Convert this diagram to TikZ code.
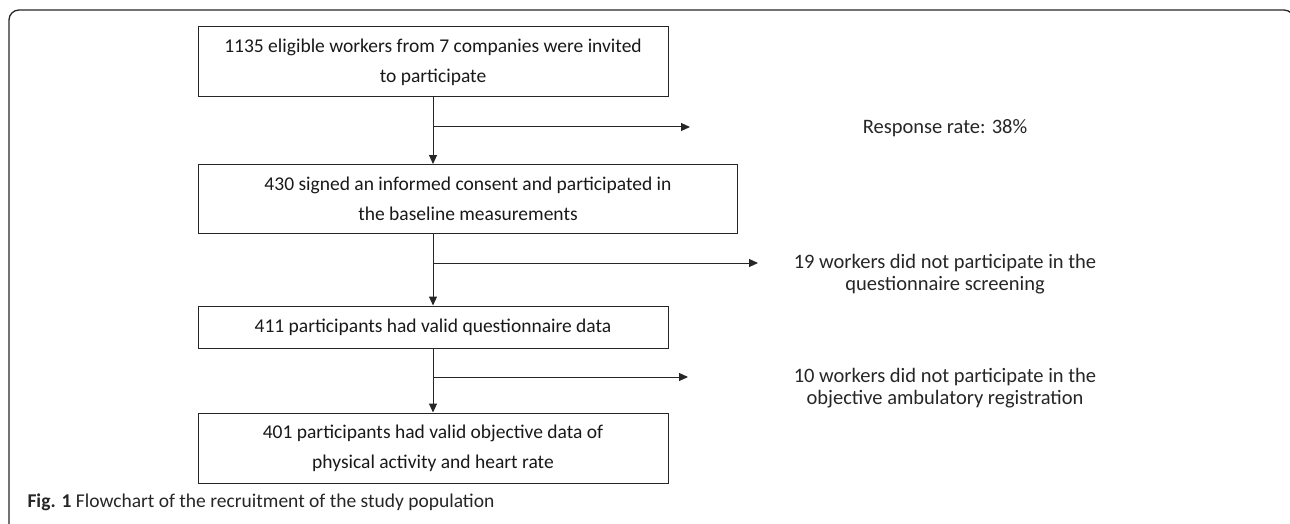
\documentclass[tikz,border=0pt]{standalone}
\usepackage{fontspec}
\setmainfont{Carlito}
\usetikzlibrary{arrows.meta}
\begin{document}
\begin{tikzpicture}[x=1pt,y=-1pt,
  flowbox/.style={draw=black!85,line width=1pt,rectangle,inner sep=0pt,font=\fontsize{19.5}{30}\selectfont,align=center,text=black!90},
  sidetext/.style={font=\fontsize{20.5}{22}\selectfont,align=center,text=black!85},
  conn/.style={draw=black!85,line width=1pt,-{Triangle[length=9pt,width=8pt]}}]
\useasboundingbox (0,0) rectangle (1290,524);
% frame
\begin{scope}
\clip (0,0) rectangle (1290,524);
\draw[line width=1.3pt,black!85,rounded corners=10] (9,530) -- (9,10) -- (1294,10) -- (1294,40);
\end{scope}
% boxes
\node[flowbox,minimum width=470,minimum height=70] (b1) at (433,62) {1135 eligible workers from 7 companies were invited\\to participate};
\node[flowbox,minimum width=539,minimum height=69,anchor=north west] (b2) at (198,164) {430 signed an informed consent and participated in\\the baseline measurements};
\node[flowbox,minimum width=470,minimum height=42] (b3) at (433,327) {411 participants had valid questionnaire data};
\node[flowbox,minimum width=470,minimum height=70] (b4) at (433,448) {401 participants had valid objective data of\\physical activity and heart rate};
% side texts
\node[sidetext] (t1) at (945,128) {Response rate: 38\%};
\node[sidetext] (t2) at (945,274) {19 workers did not participate in the\\questionnaire screening};
\node[sidetext] (t3) at (945,388) {10 workers did not participate in the\\objective ambulatory registration};
% junction coordinates
\coordinate (j1) at (b1.south |- 0,127);
\coordinate (e1) at (690,127);
\coordinate (j2) at (b1.south |- 0,263);
\coordinate (e2) at (758,263);
\coordinate (j3) at (b1.south |- 0,377);
\coordinate (e3) at (688,377);
% connectors
\draw[conn] (b1.south) -- (b1.south |- b2.north);
\draw[conn] (j1) -- (e1);
\draw[conn] (b1.south |- b2.south) -- (b3.north);
\draw[conn] (j2) -- (e2);
\draw[conn] (b3.south) -- (b4.north);
\draw[conn] (j3) -- (e3);
% caption
\node[anchor=west,font=\fontsize{19.5}{22}\selectfont,text=black!85] (cap) at (24,502) {\textbf{Fig. 1} Flowchart of the recruitment of the study population};
\end{tikzpicture}
\end{document}
